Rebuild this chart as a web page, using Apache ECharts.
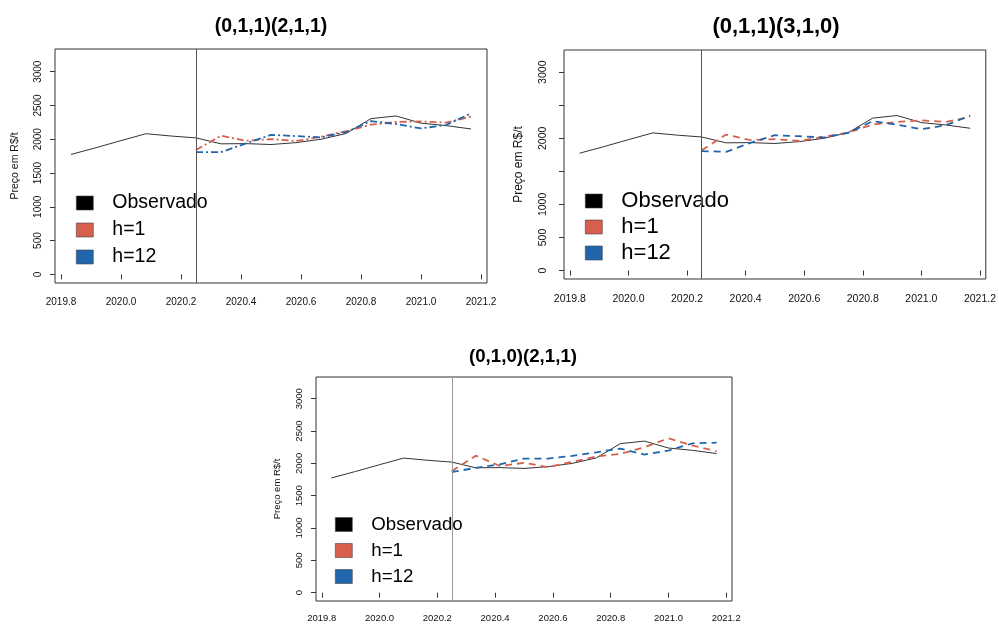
<!DOCTYPE html>
<html>
<head>
<meta charset="utf-8">
<script src="https://cdn.jsdelivr.net/npm/echarts@6/dist/echarts.min.js"></script>
<style>
  html, body { margin: 0; padding: 0; background: #fff; }
  #main { width: 999px; height: 624px; }
</style>
</head>
<body>
<div id="main"></div>
<script>
// datas (meses)
var obsX = [2019.8333, 2019.9167, 2020.0, 2020.0833, 2020.1667, 2020.25, 2020.3333, 2020.4167, 2020.5,
  2020.5833, 2020.6667, 2020.75, 2020.8333, 2020.9167, 2021.0, 2021.0833, 2021.1667];
var observado = [1775, 1875, 1980, 2082, 2048, 2020, 1932, 1935, 1922, 1950, 2000, 2085, 2305, 2345, 2238, 2202, 2152];
var prevX = [2020.25, 2020.3333, 2020.4167, 2020.5, 2020.5833, 2020.6667, 2020.75, 2020.8333, 2020.9167,
  2021.0, 2021.0833, 2021.1667];

// (0,1,1)(2,1,1)
var m1_h1 = [1840, 2052, 1978, 2003, 1973, 2037, 2120, 2215, 2255, 2264, 2245, 2334];
var m1_h12 = [1808, 1808, 1939, 2065, 2047, 2028, 2105, 2269, 2225, 2161, 2210, 2383];
// (0,1,1)(3,1,0)
var m2_h1 = [1821, 2057, 1972, 1987, 1962, 2022, 2087, 2208, 2248, 2273, 2248, 2323];
var m2_h12 = [1806, 1796, 1932, 2047, 2032, 2012, 2082, 2258, 2208, 2137, 2198, 2343];
// (0,1,0)(2,1,1)
var m3_h1 = [1880, 2120, 1960, 2009, 1942, 2024, 2106, 2147, 2249, 2387, 2275, 2190];
var m3_h12 = [1865, 1932, 1985, 2075, 2075, 2115, 2172, 2230, 2137, 2198, 2310, 2321];

var xTicks = [2019.8, 2020.0, 2020.2, 2020.4, 2020.6, 2020.8, 2021.0, 2021.2];
var yTicks = [0, 500, 1000, 1500, 2000, 2500, 3000];
var yLabels2 = [0, 500, 1000, 2000, 3000];
var titulos = ['(0,1,1)(2,1,1)', '(0,1,1)(3,1,0)', '(0,1,0)(2,1,1)'];
var nomes = ['Observado', 'h=1', 'h=12'];

var corObs = '#333333';
var corH1 = '#D6604D';
var corH12 = '#2166AC';
var fonte = '"Liberation Sans", Arial, Helvetica, sans-serif';

function pares(xs, ys) {
  var out = [];
  for (var i = 0; i < xs.length; i++) {
    out.push([xs[i], ys[i]]);
  }
  return out;
}

// layout de cada painel
var paineis = [
  {grid: {left: 55, top: 49, width: 432, height: 234}, titleX: 271, titleY: 17, titleSize: 19.5,
   tick: 10, xMargin: 14, yMargin: 12, nameSize: 10.5, nameGap: 34,
   legend: {left: 76, top: 193, size: 19.5, gap: 7}, dash: [7, 3, 2, 3], vcor: '#555', yLab: yTicks,
   h1: m1_h1, h12: m1_h12},
  {grid: {left: 564, top: 50, width: 424, height: 229}, titleX: 776, titleY: 16, titleSize: 22,
   tick: 10.5, xMargin: 15, yMargin: 15, nameSize: 12, nameGap: 39,
   legend: {left: 585, top: 190, size: 22, gap: 4}, dash: [7, 5], vcor: '#555', yLab: yLabels2,
   h1: m2_h1, h12: m2_h12},
  {grid: {left: 316, top: 377, width: 416, height: 224}, titleX: 523, titleY: 347, titleSize: 18.7,
   tick: 9.5, xMargin: 12, yMargin: 12, nameSize: 9.5, nameGap: 34,
   legend: {left: 335, top: 515, size: 18.7, gap: 7}, dash: [7, 5], vcor: '#999', yLab: yTicks,
   h1: m3_h1, h12: m3_h12}
];

var option = {
  animation: false,
  textStyle: {fontFamily: fonte},
  title: [], grid: [], xAxis: [], yAxis: [], legend: [], series: []
};

for (var p = 0; p < paineis.length; p++) {
  var c = paineis[p];
  option.title.push({
    text: titulos[p], left: c.titleX, top: c.titleY, textAlign: 'center', padding: 0,
    textStyle: {fontSize: c.titleSize, fontWeight: 'bold', color: '#000', fontFamily: fonte}
  });
  option.grid.push({
    left: c.grid.left, top: c.grid.top, width: c.grid.width, height: c.grid.height,
    containLabel: false, show: true, borderColor: '#333', borderWidth: 1, backgroundColor: 'transparent'
  });
  option.xAxis.push({
    type: 'value', gridIndex: p, min: 2019.78, max: 2021.22,
    axisLine: {show: false},
    splitLine: {show: false},
    axisTick: {show: true, inside: false, length: 5, customValues: xTicks, lineStyle: {color: '#333'}},
    axisLabel: {customValues: xTicks, margin: c.xMargin, fontSize: c.tick, color: '#111', fontFamily: fonte,
      formatter: function (v) { return v.toFixed(1); }}
  });
  option.yAxis.push({
    type: 'value', gridIndex: p, min: -128, max: 3336,
    name: 'Preço em R$/t', nameLocation: 'middle', nameGap: c.nameGap,
    nameTextStyle: {fontSize: c.nameSize, color: '#111', fontFamily: fonte},
    axisLine: {show: false},
    splitLine: {show: false},
    axisTick: {show: true, inside: false, length: 5, customValues: yTicks, lineStyle: {color: '#333'}},
    axisLabel: {customValues: c.yLab, rotate: 90, margin: c.yMargin, fontSize: c.tick, color: '#111', fontFamily: fonte,
      formatter: function (v) { return String(Math.round(v)); }}
  });
  option.legend.push({
    data: nomes, orient: 'vertical', left: c.legend.left, top: c.legend.top, padding: 0,
    icon: 'rect', itemWidth: 17, itemHeight: 14, itemGap: c.legend.gap, selectedMode: false,
    itemStyle: {borderColor: '#444', borderWidth: 0.6, borderType: 'solid'},
    textStyle: {fontSize: c.legend.size, color: '#000', fontFamily: fonte, padding: [0, 0, 0, 14]}
  });
  option.series.push({
    name: 'Observado', type: 'line', xAxisIndex: p, yAxisIndex: p, data: pares(obsX, observado),
    showSymbol: false, symbol: 'none', color: corObs, lineStyle: {color: corObs, width: 1},
    itemStyle: {color: '#000'},
    markLine: {silent: true, symbol: 'none', label: {show: false},
      lineStyle: {color: c.vcor, width: 1, type: 'solid'}, data: [{xAxis: 2020.25}]}
  });
  option.series.push({
    name: 'h=1', type: 'line', xAxisIndex: p, yAxisIndex: p, data: pares(prevX, c.h1),
    showSymbol: false, symbol: 'none', color: corH1, lineStyle: {color: corH1, width: 1.8, type: c.dash},
    itemStyle: {color: corH1}
  });
  option.series.push({
    name: 'h=12', type: 'line', xAxisIndex: p, yAxisIndex: p, data: pares(prevX, c.h12),
    showSymbol: false, symbol: 'none', color: corH12, lineStyle: {color: corH12, width: 1.8, type: c.dash},
    itemStyle: {color: corH12}
  });
}

var myChart = echarts.init(document.getElementById('main'));
myChart.setOption(option);
</script>
</body>
</html>
